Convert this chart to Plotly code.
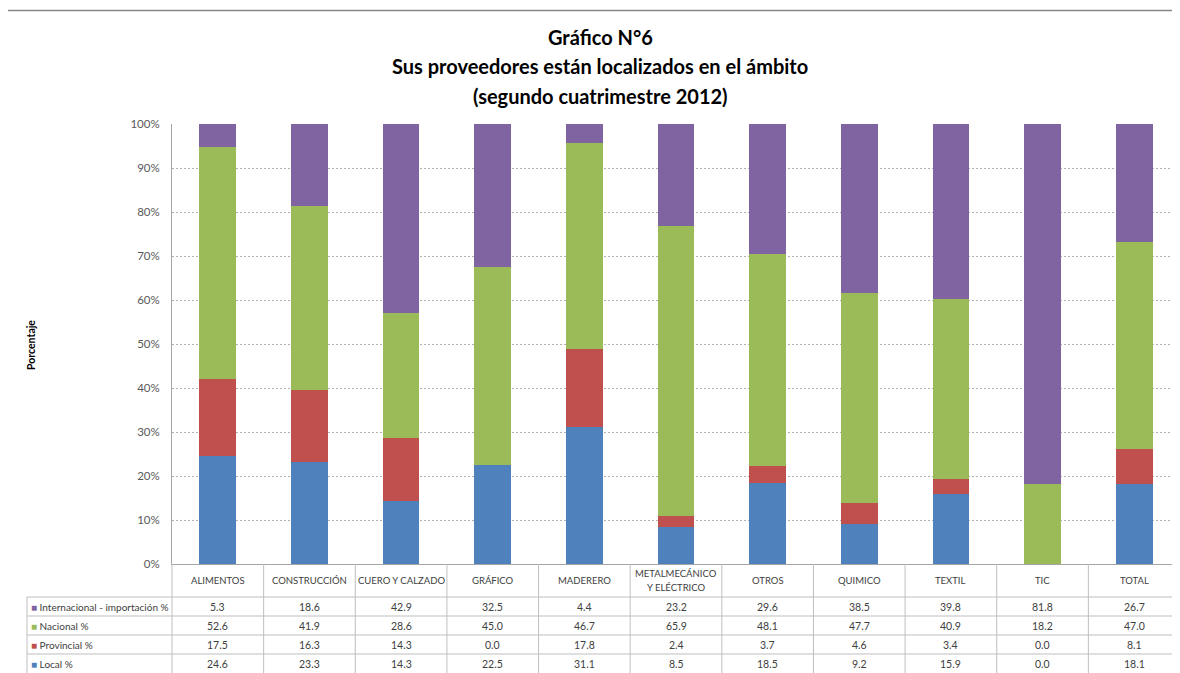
import plotly.graph_objects as go

# data (percent)
categories = ["ALIMENTOS", "CONSTRUCCIÓN", "CUERO Y CALZADO", "GRÁFICO", "MADERERO",
              "METALMECÁNICO<br>Y ELÉCTRICO", "OTROS", "QUIMICO", "TEXTIL", "TIC", "TOTAL"]
internacional = [5.3, 18.6, 42.9, 32.5, 4.4, 23.2, 29.6, 38.5, 39.8, 81.8, 26.7]
nacional = [52.6, 41.9, 28.6, 45.0, 46.7, 65.9, 48.1, 47.7, 40.9, 18.2, 47.0]
provincial = [17.5, 16.3, 14.3, 0.0, 17.8, 2.4, 3.7, 4.6, 3.4, 0.0, 8.1]
local = [24.6, 23.3, 14.3, 22.5, 31.1, 8.5, 18.5, 9.2, 15.9, 0.0, 18.1]

series_names = ["Internacional - importación %", "Nacional %", "Provincial %", "Local %"]
series_values = [internacional, nacional, provincial, local]
series_colors = ["#8064A2", "#9BBB59", "#C0504D", "#4F81BD"]

# the page puts the figure 8px in from the top-left corner
OFF = 8
W, H = 1180 - OFF, 673 - OFF
L, R, T, B = 172 - OFF, 0, 124 - OFF, 109
PW, PH = W - L - R, H - T - B


# helpers: screen pixel -> paper coordinate
def px_x(x):
    return (x - OFF - L) / PW


def px_y(y):
    return (H - B - (y - OFF)) / PH


fig = go.Figure()

# stacked bars, bottom to top
for name, vals, color in reversed(list(zip(series_names, series_values, series_colors))):
    fig.add_bar(x=categories, y=vals, name=name, marker_color=color,
                marker_line_width=0)

fig.update_layout(
    width=W, height=H,
    margin=dict(l=L, r=R, t=T, b=B, pad=0),
    barmode="stack", barnorm="percent", bargap=0.6,
    showlegend=False,
    plot_bgcolor="white", paper_bgcolor="white",
    font=dict(family="Lato, Open Sans, sans-serif", color="#404040"),
)
fig.update_xaxes(showticklabels=False, ticks="", showgrid=False,
                 showline=True, linecolor="#a6a6a6", linewidth=1)
fig.update_yaxes(range=[0, 100], dtick=10, ticksuffix="%", ticks="",
                 ticklabelstandoff=9, tickfont=dict(size=11.5, color="#595959"),
                 showgrid=True, gridcolor="#b0b0b0", griddash="2px,2px", gridwidth=1,
                 showline=True, linecolor="#a6a6a6", linewidth=1, zeroline=False)

ann = []
centred = dict(showarrow=False, xanchor="center", yanchor="middle")
# title
for text, y in [("Gráfico N°6", 37), ("Sus proveedores están localizados en el ámbito", 66),
                ("(segundo cuatrimestre 2012)", 96)]:
    ann.append(dict(text="<b>" + text + "</b>", xref="paper", yref="paper",
                    x=px_x(600), y=px_y(y), font=dict(size=20, color="black"), **centred))

# y axis title
ann.append(dict(text="<b>Porcentaje</b>", xref="paper", yref="paper",
                x=px_x(31), y=px_y(345), textangle=-90,
                font=dict(size=10.5, color="black"), **centred))

# data table: header row with categories (one annotation per text line)
for c in categories:
    parts = c.split("<br>")
    for k, part in enumerate(parts):
        yc = 580.5 + (k - (len(parts) - 1) / 2) * 14
        ann.append(dict(text=part, xref="x", yref="paper", x=c, y=px_y(yc),
                        font=dict(size=9.5, color="#404040"), **centred))

row_centers = [606.5, 625.5, 644.5, 663.5]
for name, vals, color, yc in zip(series_names, series_values, series_colors, row_centers):
    ann.append(dict(text="<span style='color:%s'>■</span> %s" % (color, name),
                    xref="paper", yref="paper", x=px_x(29), y=px_y(yc),
                    xanchor="left", yanchor="middle", showarrow=False,
                    font=dict(size=10, color="#404040")))
    for c, v in zip(categories, vals):
        ann.append(dict(text="%.1f" % v, xref="x", yref="paper", x=c, y=px_y(yc),
                        font=dict(size=10.5, color="#404040"), **centred))

fig.update_layout(annotations=ann)

line = dict(color="#bfbfbf", width=1)
shapes = []
# horizontal table lines
for y in [597, 616, 635, 654]:
    shapes.append(dict(type="line", xref="paper", yref="paper",
                       x0=px_x(27), x1=1, y0=px_y(y), y1=px_y(y), line=line))
# vertical table lines
shapes.append(dict(type="line", xref="paper", yref="paper",
                   x0=px_x(27), x1=px_x(27), y0=px_y(597), y1=px_y(680), line=line))
shapes.append(dict(type="line", xref="paper", yref="paper",
                   x0=0, x1=0, y0=0, y1=px_y(680), line=line))
for i in range(1, len(categories)):
    shapes.append(dict(type="line", xref="x", yref="paper",
                       x0=i - 0.5, x1=i - 0.5, y0=0, y1=px_y(680), line=line))
# outer chart border
shapes.append(dict(type="rect", xref="paper", yref="paper",
                   x0=px_x(6), x1=px_x(1200), y0=px_y(10.5), y1=px_y(690),
                   line=dict(color="#868686", width=1.5)))
fig.update_layout(shapes=shapes)

fig.write_html("out.html")
